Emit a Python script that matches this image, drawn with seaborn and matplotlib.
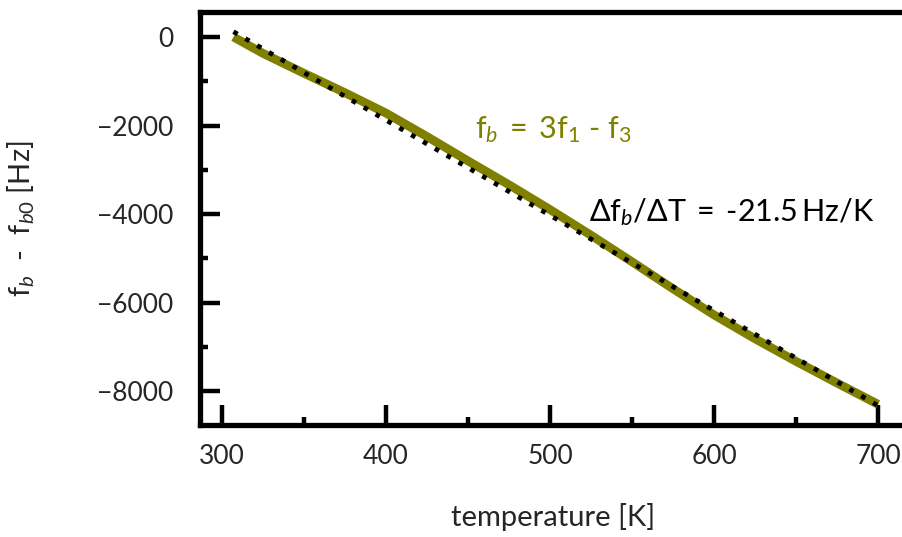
import matplotlib
matplotlib.use("Agg")
import matplotlib.pyplot as plt
import seaborn as sns
import pandas as pd
from matplotlib.ticker import MultipleLocator

# data
temperature = [307, 325, 350, 375, 400, 425, 450, 475, 500, 525, 550, 575, 600, 625, 650, 675, 700]
delta_fb = [0, -370, -820, -1260, -1720, -2250, -2800, -3340, -3900, -4480, -5080, -5690, -6280, -6820, -7330, -7820, -8300]
fit_T = [307, 700]
fit_val = [120, -8330]
x_ticks = [300, 400, 500, 600, 700]
y_ticks = [0, -2000, -4000, -6000, -8000]

sns.set_theme(style="ticks")
plt.rcParams['font.family'] = ['Lato', 'DejaVu Sans']
plt.rcParams['mathtext.fontset'] = 'custom'
plt.rcParams['mathtext.rm'] = 'Lato'
plt.rcParams['mathtext.it'] = 'Lato:italic'
plt.rcParams['mathtext.bf'] = 'Lato:bold'

fig = plt.figure(figsize=(9.02, 5.37), dpi=100)
ax = fig.add_axes([200/902, 1-425/537, 702/902, 413/537])

df = pd.DataFrame({"T": temperature, "df": delta_fb})
dfit = pd.DataFrame({"T": fit_T, "df": fit_val})
olive = "#808000"
sns.lineplot(data=df, x="T", y="df", ax=ax, color=olive, linewidth=6.3,
             solid_capstyle="butt")
sns.lineplot(data=dfit, x="T", y="df", ax=ax, color="black", linewidth=3.4,
             linestyle=(0, (1, 1.9)), dash_capstyle="butt")

ax.set_xlim(286.6, 714.6)
ax.set_ylim(-8768, 565)
ax.set_xticks(x_ticks)
ax.set_yticks(y_ticks)
ax.xaxis.set_minor_locator(MultipleLocator(50))
ax.yaxis.set_minor_locator(MultipleLocator(1000))

for s in ["left", "top", "bottom"]:
    ax.spines[s].set_linewidth(3.8)
    ax.spines[s].set_color("black")
ax.spines["right"].set_visible(False)

ax.tick_params(axis="both", which="major", direction="in", length=14.5, width=3.2,
               labelsize=19, color="black")
ax.tick_params(axis="both", which="minor", direction="in", length=5.5, width=3.2,
               color="black")
ax.tick_params(axis="y", which="major", pad=19)
ax.tick_params(axis="x", which="major", pad=14)
ax.tick_params(axis="both", which="both", top=False, right=False)

ax.set_xlabel("temperature [K]", fontsize=21)
ax.set_ylabel(r"f$_{b}$  -  f$_{b\mathrm{0}}$ [Hz]", fontsize=21)
ax.xaxis.set_label_coords(0.503, -0.19)
ax.yaxis.set_label_coords(-0.232, 0.5)

ax.text(454, -2100, r"$\mathrm{f}_{b}\;=\;3\mathrm{f}_{1}$ - $\mathrm{f}_{3}$", color=olive,
        fontsize=22, ha="left", va="center")
ax.text(524, -3955, r"$\Delta\mathrm{f}_{b}/\Delta\mathrm{T}\;=\;$-21.5$\,$Hz/K", color="black",
        fontsize=22, ha="left", va="center")

fig.savefig("out.png", dpi=100)
